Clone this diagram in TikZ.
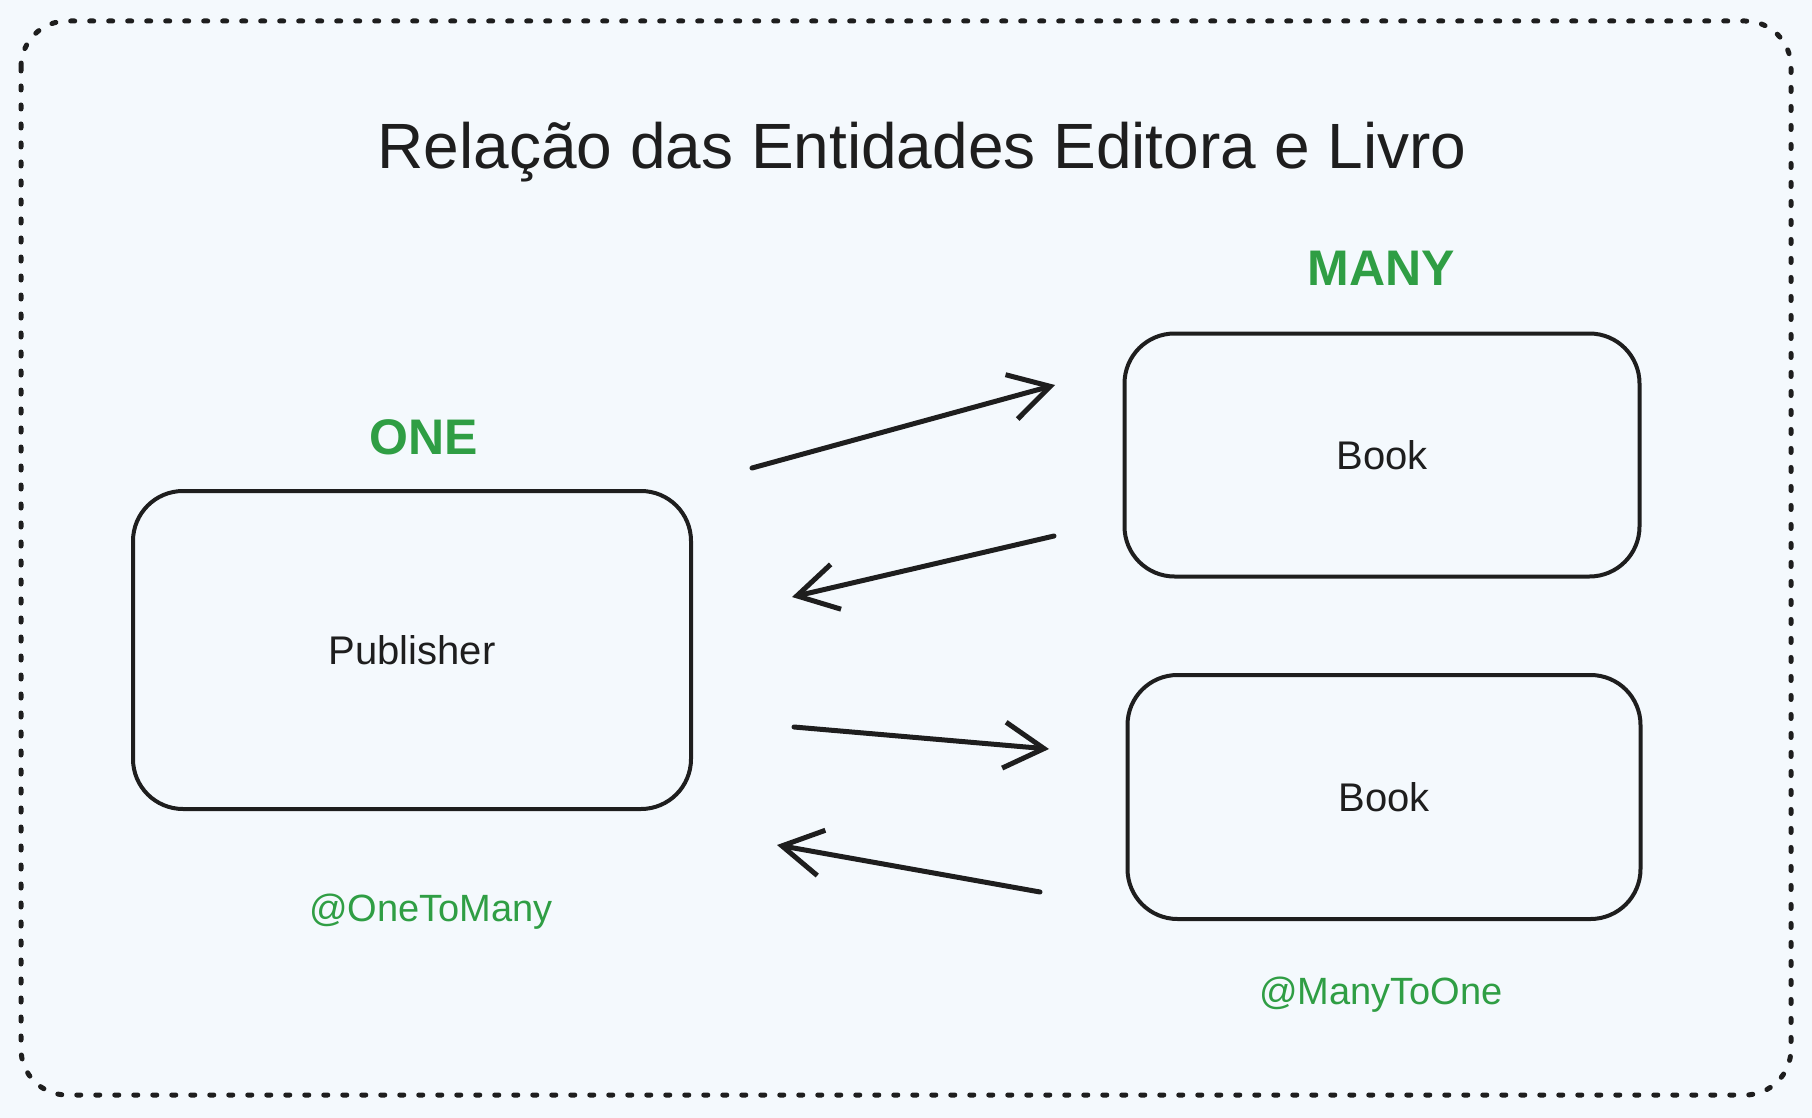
\documentclass[tikz,border=0pt]{standalone}
\usepackage{fontspec}
\setmainfont{Liberation Sans}
\usetikzlibrary{arrows.meta}
\definecolor{canvas}{HTML}{F4F9FD}
\definecolor{ink}{HTML}{1E1E1E}
\definecolor{leaf}{HTML}{2F9E44}

\begin{document}
\begin{tikzpicture}[x=1pt,y=-1pt,
  entity/.style={draw=ink,line width=4pt,rounded corners=50pt,text=ink,
    font=\fontsize{40}{48}\selectfont},
  card/.style={text=leaf,font=\fontsize{50}{60}\selectfont\bfseries},
  mapping/.style={text=leaf,font=\fontsize{38}{46}\selectfont},
  link/.style={draw=ink,line width=5pt,line cap=round,
    -{Straight Barb[length=40pt,width=46pt,line width=5pt]}}]
\fill[canvas] (0,0) rectangle (1812,1118);
\useasboundingbox (0,0) rectangle (1812,1118);
\draw[ink,line width=5pt,line cap=round,dash pattern=on 4pt off 15pt,rounded corners=46pt]
  (21,21) rectangle (1791,1095);

\node[text=ink,font=\fontsize{64}{76}\selectfont] (title) at (922,152) {Relação das Entidades Editora e Livro};

\node[entity,minimum width=558pt,minimum height=318pt] (publisher) at (412,650) {Publisher};
\node[entity,minimum width=515pt,minimum height=243pt] (book1) at (1382,455) {Book};
\node[entity,minimum width=513pt,minimum height=244pt] (book2) at (1384,797) {Book};

\node[card] (one) at (424,437) {ONE};
\node[card] (many) at (1381,268) {MANY};
\node[mapping] (onetomany) at (431,912) {@OneToMany};
\node[mapping] (manytoone) at (1381,995) {@ManyToOne};

\coordinate (a1) at (752,468);
\coordinate (b1) at (1055,385);
\coordinate (a2) at (1054,536);
\coordinate (b2) at (792,597);
\coordinate (a3) at (794,727);
\coordinate (b3) at (1049,749);
\coordinate (a4) at (1040,892);
\coordinate (b4) at (777,845);
\draw[link] (a1) -- (b1);
\draw[link] (a2) -- (b2);
\draw[link] (a3) -- (b3);
\draw[link] (a4) -- (b4);

\end{tikzpicture}
\end{document}
